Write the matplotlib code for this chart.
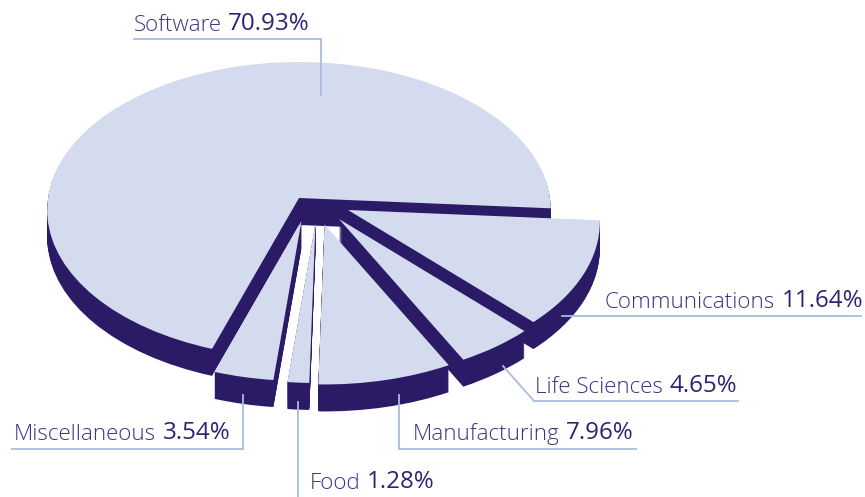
import matplotlib
matplotlib.use("Agg")
import numpy as np
import matplotlib.pyplot as plt
from matplotlib.transforms import Transform, Affine2D

# ---- data ----
categories = ["Software", "Miscellaneous", "Food", "Manufacturing", "Life Sciences", "Communications"]
shares = [70.93, 3.54, 1.28, 7.96, 4.65, 11.64]
value_labels = ["70.93%", "3.54%", "1.28%", "7.96%", "4.65%", "11.64%"]

# ---- layout (pixels) ----
W, H = 865, 497
apex = (299, 198)
offsets = [(0, 0), (2.5, 23), (16.5, 25), (25.5, 26.5), (40, 21), (49, 12)]
draw_order = [0, 5, 4, 3, 2, 1]
depth = 27
label_pos = [(134, 31), (14, 440), (310, 489), (413, 440), (535, 393), (605, 308)]
leaders = [
    [(134, 39), (321, 39), (321, 95)],
    [(12, 449), (243, 449), (243, 395)],
    [(298, 497), (298, 402)],
    [(636, 449), (399, 449), (399, 395)],
    [(738, 401), (534, 401), (503, 366)],
    [(861, 316), (562, 316)],
]
LIGHT, DARK, LINE, NAME_C, VAL_C = "#D4DBEE", "#2B1B66", "#A9BCDF", "#3F3384", "#2F2270"
FONT = ["Open Sans", "Lato", "DejaVu Sans"]
FS_NAME = 16.1
FS_VALUE = 17.4


class Perspective(Transform):
    """Maps the unit-circle pie plane on to the tilted disc seen in the picture."""
    input_dims = output_dims = 2
    is_affine = False
    has_inverse = False

    def __init__(self, rx=251.0, ry=147.0, k=0.081):
        super().__init__()
        self.rx, self.ry, self.k = rx, ry, k

    def transform_non_affine(self, xy):
        xy = np.asarray(xy, float)
        d = 1 + self.k * xy[:, 1]
        return np.column_stack([self.rx * xy[:, 0] / d, -self.ry * xy[:, 1] / d])


fig = plt.figure(figsize=(W / 100, H / 100), dpi=100, facecolor="white")
ax = fig.add_axes([0, 0, 1, 1])
proj = Perspective()


def draw_pie(color, dy, base_z):
    wedges, _ = ax.pie(shares, startangle=-4, colors=[color] * len(shares),
                       wedgeprops=dict(linewidth=0))
    for z, i in enumerate(draw_order):
        dx_i, dy_i = offsets[i]
        shift = Affine2D().translate(apex[0] + dx_i, apex[1] + dy_i + dy)
        wedges[i].set_transform(proj + shift + ax.transData)
        wedges[i].set_zorder(z * 10 + base_z)
        wedges[i].set_clip_on(False)


for d in range(1, depth + 1):
    draw_pie(DARK, d, 1)
draw_pie(LIGHT, 0, 5)

ax.set_aspect("auto")
ax.set_xlim(0, W)
ax.set_ylim(H, 0)
ax.axis("off")

for pts in leaders:
    xs, ys = zip(*pts)
    ax.plot(xs, ys, color=LINE, lw=1.3, solid_joinstyle="miter", zorder=100, clip_on=False)

for name, val, (x, y) in zip(categories, value_labels, label_pos):
    t = ax.text(x, y, name, family=FONT, fontsize=FS_NAME, fontweight=300, color=NAME_C,
                ha="left", va="baseline", zorder=110)
    ax.annotate(val, xy=(1, 0), xycoords=t, xytext=(4.5, 0), textcoords="offset points",
                family=FONT, fontsize=FS_VALUE, fontweight=400, color=VAL_C,
                ha="left", va="bottom", zorder=110)

fig.savefig("out.png", dpi=100, facecolor="white")
